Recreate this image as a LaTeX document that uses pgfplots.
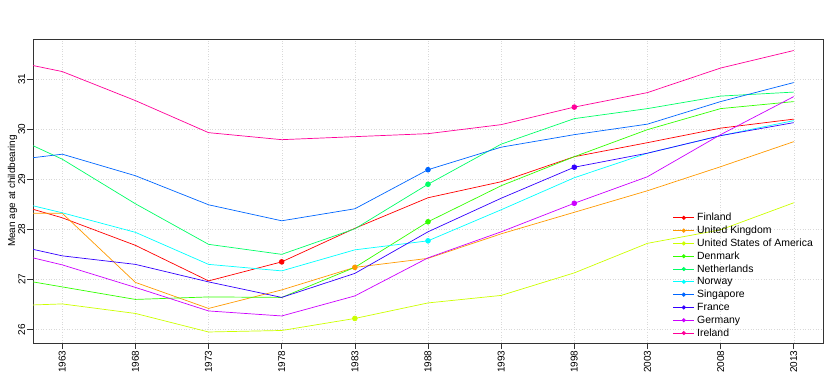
\documentclass[border=0pt]{standalone}
\usepackage{fontspec}
\setmainfont{Liberation Sans}
\usepackage{pgfplots}
\pgfplotsset{compat=1.18}

% R rainbow(10) palette
\definecolor{cFI}{HTML}{FF0000}
\definecolor{cUK}{HTML}{FF9900}
\definecolor{cUS}{HTML}{CCFF00}
\definecolor{cDK}{HTML}{33FF00}
\definecolor{cNL}{HTML}{00FF66}
\definecolor{cNO}{HTML}{00FFFF}
\definecolor{cSG}{HTML}{0066FF}
\definecolor{cFR}{HTML}{3300FF}
\definecolor{cDE}{HTML}{CC00FF}
\definecolor{cIE}{HTML}{FF0099}

\begin{document}
\begin{tikzpicture}
\begin{axis}[
    at={(0,0)}, anchor=south west,
    scale only axis,
    width=790bp, height=304bp,
    xmin=1961, xmax=2015,
    ymin=25.73, ymax=31.8,
    xtick={1963,1968,...,2013},
    ytick={26,27,28,29,30,31},
    xticklabel style={rotate=90, anchor=east, font=\fontsize{10}{12}\selectfont, inner sep=1.5bp},
    yticklabel style={rotate=90, anchor=south, font=\fontsize{10}{12}\selectfont, inner sep=1.5bp},
    /pgf/number format/assume math mode=true,
    /pgf/number format/1000 sep={},
    xtick pos=left, ytick pos=left,
    tick align=outside,
    major tick length=6bp,
    tick style={black!80, line width=0.5bp},
    axis line style={black!80, line width=0.6bp},
    grid=major,
    grid style={gray!30, line width=0.4bp, dash pattern=on 0.6bp off 2bp},
    ylabel={Mean age at childbearing},
    ylabel style={font=\fontsize{10}{12}\selectfont, yshift=-4bp},
    every axis plot/.append style={line width=0.7bp, mark size=2.4bp},
    legend image code/.code={
        \draw[#1, mark=*, mark size=1.7bp, mark indices={2}]
            plot coordinates {(0bp,0bp) (10.5bp,0bp) (21bp,0bp)};
    },
    legend style={draw=none, fill=none, at={(0.806,0.44)}, anchor=north west,
        font=\fontsize{10.5}{12}\selectfont, row sep=0bp,
        nodes={inner xsep=2.5bp, inner ysep=0bp, text height=8.5bp, text depth=2.3bp, minimum height=12.8bp}},
    legend cell align=left,
]
\addplot[cFI, mark=*, mark indices={5}] coordinates {
    (1961,28.40) (1963,28.23) (1968,27.68) (1973,26.97) (1978,27.35) (1983,28.02)
    (1988,28.63) (1993,28.95) (1998,29.45) (2003,29.73) (2008,30.02) (2013,30.20)};
\addlegendentry{Finland}
\addplot[cUK, mark=*, mark indices={6}] coordinates {
    (1961,28.32) (1963,28.32) (1968,26.94) (1973,26.42) (1978,26.79) (1983,27.24)
    (1988,27.42) (1993,27.91) (1998,28.34) (2003,28.77) (2008,29.25) (2013,29.75)};
\addlegendentry{United Kingdom}
\addplot[cUS, mark=*, mark indices={6}] coordinates {
    (1961,26.49) (1963,26.51) (1968,26.32) (1973,25.95) (1978,25.98) (1983,26.22)
    (1988,26.53) (1993,26.68) (1998,27.13) (2003,27.72) (2008,27.99) (2013,28.53)};
\addlegendentry{United States of America}
\addplot[cDK, mark=*, mark indices={7}] coordinates {
    (1961,26.95) (1963,26.85) (1968,26.60) (1973,26.65) (1978,26.64) (1983,27.24)
    (1988,28.15) (1993,28.87) (1998,29.45) (2003,29.99) (2008,30.41) (2013,30.55)};
\addlegendentry{Denmark}
\addplot[cNL, mark=*, mark indices={7}] coordinates {
    (1961,29.67) (1963,29.40) (1968,28.51) (1973,27.70) (1978,27.50) (1983,28.01)
    (1988,28.90) (1993,29.70) (1998,30.21) (2003,30.41) (2008,30.66) (2013,30.74)};
\addlegendentry{Netherlands}
\addplot[cNO, mark=*, mark indices={7}] coordinates {
    (1961,28.47) (1963,28.33) (1968,27.94) (1973,27.30) (1978,27.17) (1983,27.59)
    (1988,27.77) (1993,28.39) (1998,29.03) (2003,29.52) (2008,29.87) (2013,30.17)};
\addlegendentry{Norway}
\addplot[cSG, mark=*, mark indices={7}] coordinates {
    (1961,29.43) (1963,29.50) (1968,29.07) (1973,28.49) (1978,28.17) (1983,28.41)
    (1988,29.19) (1993,29.64) (1998,29.89) (2003,30.10) (2008,30.55) (2013,30.93)};
\addlegendentry{Singapore}
\addplot[cFR, mark=*, mark indices={9}] coordinates {
    (1961,27.60) (1963,27.47) (1968,27.30) (1973,26.95) (1978,26.64) (1983,27.12)
    (1988,27.95) (1993,28.62) (1998,29.24) (2003,29.52) (2008,29.87) (2013,30.13)};
\addlegendentry{France}
\addplot[cDE, mark=*, mark indices={9}] coordinates {
    (1961,27.43) (1963,27.29) (1968,26.84) (1973,26.37) (1978,26.27) (1983,26.67)
    (1988,27.43) (1993,27.95) (1998,28.52) (2003,29.05) (2008,29.89) (2013,30.65)};
\addlegendentry{Germany}
\addplot[cIE, mark=*, mark indices={9}] coordinates {
    (1961,31.27) (1963,31.15) (1968,30.57) (1973,29.93) (1978,29.79) (1983,29.85)
    (1988,29.91) (1993,30.09) (1998,30.44) (2003,30.73) (2008,31.22) (2013,31.57)};
\addlegendentry{Ireland}
\end{axis}
\path (-33bp,-40bp) rectangle (797bp,343bp);
\end{tikzpicture}
\end{document}
